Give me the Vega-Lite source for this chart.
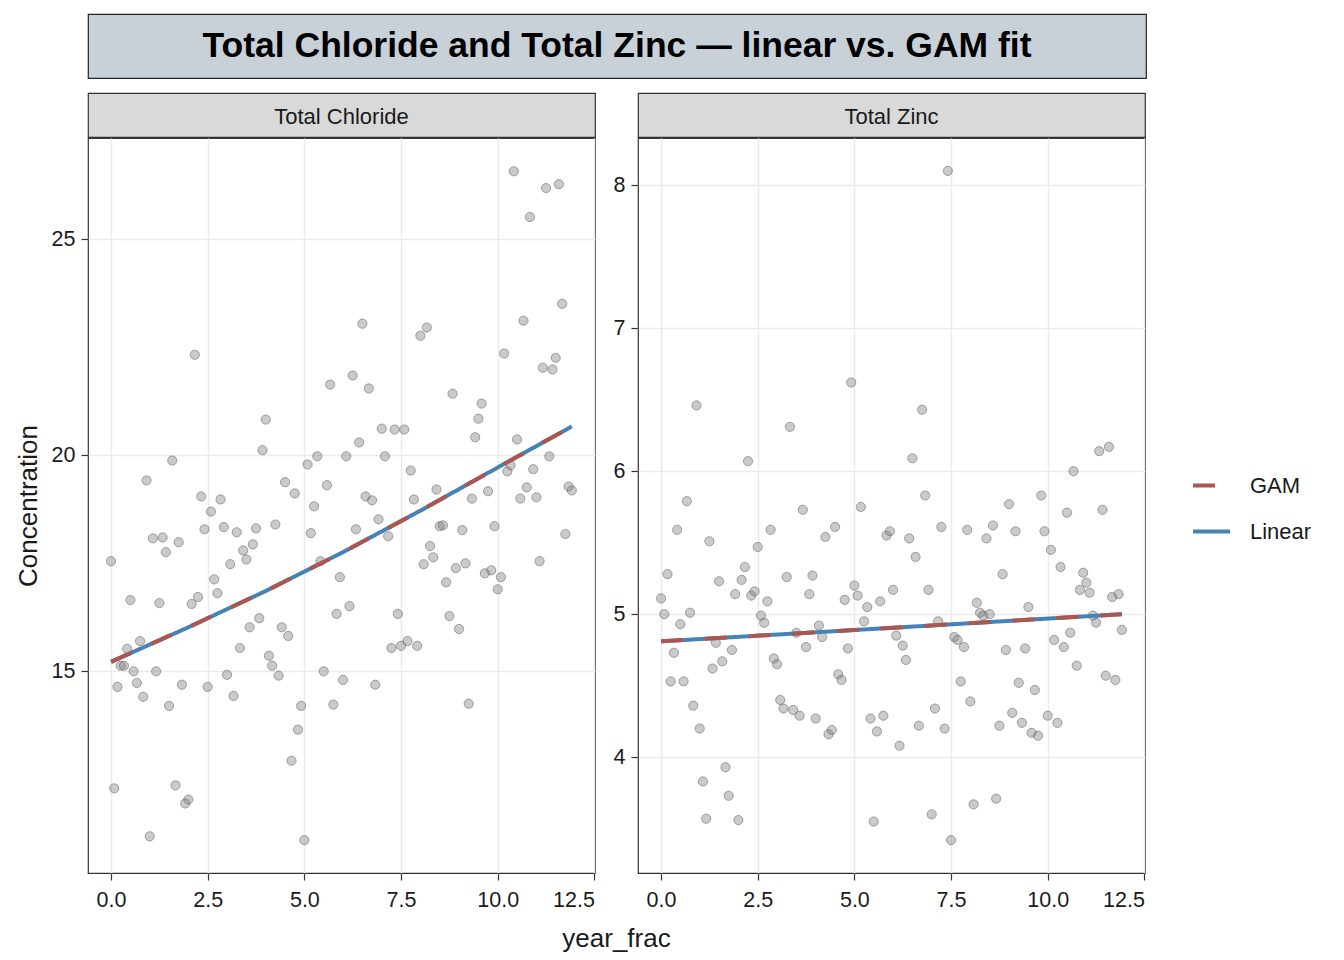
{
  "$schema": "https://vega.github.io/schema/vega-lite/v6.json",
  "padding": {"left": 14, "top": 13, "right": 5, "bottom": 5},
  "background": "white",
  "config": {
    "font": "Liberation Sans",
    "view": {"stroke": null},
    "axis": {
      "domain": false,
      "tickColor": "#333333",
      "tickSize": 7,
      "tickWidth": 1.2,
      "labelFont": "Liberation Sans",
      "labelFontSize": 21.5,
      "labelColor": "#1a1a1a",
      "gridColor": "#EBEBEB",
      "gridWidth": 1.5,
      "titleFont": "Liberation Sans",
      "titleFontSize": 26,
      "titleFontWeight": "normal",
      "titleColor": "#1a1a1a"
    },
    "axisX": {"labelPadding": 9, "titlePadding": 15},
    "axisY": {"labelPadding": 6, "titlePadding": 10},
    "legend": {
      "symbolType": "stroke",
      "symbolSize": 1369,
      "symbolStrokeWidth": 4,
      "labelFont": "Liberation Sans",
      "labelFontSize": 22,
      "labelColor": "#1a1a1a",
      "labelOffset": 18,
      "rowPadding": 14
    }
  },
  "datasets": {
    "chloride": [
      {"year_frac": 0, "value": 17.55}, {"year_frac": 0.083, "value": 12.29}, {"year_frac": 0.167, "value": 14.64}, {"year_frac": 0.25, "value": 15.13}, {"year_frac": 0.333, "value": 15.13}, {"year_frac": 0.417, "value": 15.52}, {"year_frac": 0.5, "value": 16.65}, {"year_frac": 0.583, "value": 15.0}, {"year_frac": 0.667, "value": 14.73}, {"year_frac": 0.75, "value": 15.7}, {"year_frac": 0.833, "value": 14.41}, {"year_frac": 0.917, "value": 19.42},
      {"year_frac": 1, "value": 11.18}, {"year_frac": 1.083, "value": 18.08}, {"year_frac": 1.167, "value": 15.0}, {"year_frac": 1.25, "value": 16.58}, {"year_frac": 1.333, "value": 18.1}, {"year_frac": 1.417, "value": 17.76}, {"year_frac": 1.5, "value": 14.2}, {"year_frac": 1.583, "value": 19.88}, {"year_frac": 1.667, "value": 12.36}, {"year_frac": 1.75, "value": 17.99}, {"year_frac": 1.833, "value": 14.69}, {"year_frac": 1.917, "value": 11.94},
      {"year_frac": 2, "value": 12.03}, {"year_frac": 2.083, "value": 16.56}, {"year_frac": 2.167, "value": 22.33}, {"year_frac": 2.25, "value": 16.72}, {"year_frac": 2.333, "value": 19.05}, {"year_frac": 2.417, "value": 18.29}, {"year_frac": 2.5, "value": 14.64}, {"year_frac": 2.583, "value": 18.7}, {"year_frac": 2.667, "value": 17.13}, {"year_frac": 2.75, "value": 16.81}, {"year_frac": 2.833, "value": 18.98}, {"year_frac": 2.917, "value": 18.34},
      {"year_frac": 3, "value": 14.92}, {"year_frac": 3.083, "value": 17.48}, {"year_frac": 3.167, "value": 14.43}, {"year_frac": 3.25, "value": 18.22}, {"year_frac": 3.333, "value": 15.54}, {"year_frac": 3.417, "value": 17.8}, {"year_frac": 3.5, "value": 17.59}, {"year_frac": 3.583, "value": 16.02}, {"year_frac": 3.667, "value": 17.94}, {"year_frac": 3.75, "value": 18.31}, {"year_frac": 3.833, "value": 16.23}, {"year_frac": 3.917, "value": 20.12},
      {"year_frac": 4, "value": 20.83}, {"year_frac": 4.083, "value": 15.36}, {"year_frac": 4.167, "value": 15.13}, {"year_frac": 4.25, "value": 18.4}, {"year_frac": 4.333, "value": 14.9}, {"year_frac": 4.417, "value": 16.02}, {"year_frac": 4.5, "value": 19.38}, {"year_frac": 4.583, "value": 15.82}, {"year_frac": 4.667, "value": 12.93}, {"year_frac": 4.75, "value": 19.12}, {"year_frac": 4.833, "value": 13.65}, {"year_frac": 4.917, "value": 14.2},
      {"year_frac": 5, "value": 11.09}, {"year_frac": 5.083, "value": 19.79}, {"year_frac": 5.167, "value": 18.2}, {"year_frac": 5.25, "value": 18.82}, {"year_frac": 5.333, "value": 19.98}, {"year_frac": 5.417, "value": 17.55}, {"year_frac": 5.5, "value": 15.0}, {"year_frac": 5.583, "value": 19.31}, {"year_frac": 5.667, "value": 21.64}, {"year_frac": 5.75, "value": 14.23}, {"year_frac": 5.833, "value": 16.33}, {"year_frac": 5.917, "value": 17.18},
      {"year_frac": 6, "value": 14.8}, {"year_frac": 6.083, "value": 19.98}, {"year_frac": 6.167, "value": 16.51}, {"year_frac": 6.25, "value": 21.85}, {"year_frac": 6.333, "value": 18.29}, {"year_frac": 6.417, "value": 20.3}, {"year_frac": 6.5, "value": 23.05}, {"year_frac": 6.583, "value": 19.05}, {"year_frac": 6.667, "value": 21.55}, {"year_frac": 6.75, "value": 18.96}, {"year_frac": 6.833, "value": 14.69}, {"year_frac": 6.917, "value": 18.52},
      {"year_frac": 7, "value": 20.62}, {"year_frac": 7.083, "value": 19.98}, {"year_frac": 7.167, "value": 18.13}, {"year_frac": 7.25, "value": 15.54}, {"year_frac": 7.333, "value": 20.6}, {"year_frac": 7.417, "value": 16.33}, {"year_frac": 7.5, "value": 15.59}, {"year_frac": 7.583, "value": 20.6}, {"year_frac": 7.667, "value": 15.7}, {"year_frac": 7.75, "value": 19.65}, {"year_frac": 7.833, "value": 18.98}, {"year_frac": 7.917, "value": 15.59},
      {"year_frac": 8, "value": 22.77}, {"year_frac": 8.083, "value": 17.48}, {"year_frac": 8.167, "value": 22.96}, {"year_frac": 8.25, "value": 17.9}, {"year_frac": 8.333, "value": 17.64}, {"year_frac": 8.417, "value": 19.21}, {"year_frac": 8.5, "value": 18.36}, {"year_frac": 8.583, "value": 18.38}, {"year_frac": 8.667, "value": 17.06}, {"year_frac": 8.75, "value": 16.28}, {"year_frac": 8.833, "value": 21.43}, {"year_frac": 8.917, "value": 17.39},
      {"year_frac": 9, "value": 15.98}, {"year_frac": 9.083, "value": 18.27}, {"year_frac": 9.167, "value": 17.5}, {"year_frac": 9.25, "value": 14.25}, {"year_frac": 9.333, "value": 19.0}, {"year_frac": 9.417, "value": 20.42}, {"year_frac": 9.5, "value": 20.85}, {"year_frac": 9.583, "value": 21.2}, {"year_frac": 9.667, "value": 17.27}, {"year_frac": 9.75, "value": 19.17}, {"year_frac": 9.833, "value": 17.34}, {"year_frac": 9.917, "value": 18.36},
      {"year_frac": 10, "value": 16.9}, {"year_frac": 10.083, "value": 17.18}, {"year_frac": 10.167, "value": 22.36}, {"year_frac": 10.25, "value": 19.63}, {"year_frac": 10.333, "value": 19.77}, {"year_frac": 10.417, "value": 26.58}, {"year_frac": 10.5, "value": 20.37}, {"year_frac": 10.583, "value": 19.0}, {"year_frac": 10.667, "value": 23.12}, {"year_frac": 10.75, "value": 19.26}, {"year_frac": 10.833, "value": 25.52}, {"year_frac": 10.917, "value": 19.68},
      {"year_frac": 11, "value": 19.03}, {"year_frac": 11.083, "value": 17.55}, {"year_frac": 11.167, "value": 22.03}, {"year_frac": 11.25, "value": 26.19}, {"year_frac": 11.333, "value": 19.98}, {"year_frac": 11.417, "value": 21.99}, {"year_frac": 11.5, "value": 22.26}, {"year_frac": 11.583, "value": 26.28}, {"year_frac": 11.667, "value": 23.51}, {"year_frac": 11.75, "value": 18.18}, {"year_frac": 11.833, "value": 19.28}, {"year_frac": 11.917, "value": 19.19}
    ],
    "zinc": [
      {"year_frac": 0, "value": 5.11}, {"year_frac": 0.083, "value": 5.0}, {"year_frac": 0.167, "value": 5.28}, {"year_frac": 0.25, "value": 4.53}, {"year_frac": 0.333, "value": 4.73}, {"year_frac": 0.417, "value": 5.59}, {"year_frac": 0.5, "value": 4.93}, {"year_frac": 0.583, "value": 4.53}, {"year_frac": 0.667, "value": 5.79}, {"year_frac": 0.75, "value": 5.01}, {"year_frac": 0.833, "value": 4.36}, {"year_frac": 0.917, "value": 6.46},
      {"year_frac": 1, "value": 4.2}, {"year_frac": 1.083, "value": 3.83}, {"year_frac": 1.167, "value": 3.57}, {"year_frac": 1.25, "value": 5.51}, {"year_frac": 1.333, "value": 4.62}, {"year_frac": 1.417, "value": 4.8}, {"year_frac": 1.5, "value": 5.23}, {"year_frac": 1.583, "value": 4.67}, {"year_frac": 1.667, "value": 3.93}, {"year_frac": 1.75, "value": 3.73}, {"year_frac": 1.833, "value": 4.75}, {"year_frac": 1.917, "value": 5.14},
      {"year_frac": 2, "value": 3.56}, {"year_frac": 2.083, "value": 5.24}, {"year_frac": 2.167, "value": 5.33}, {"year_frac": 2.25, "value": 6.07}, {"year_frac": 2.333, "value": 5.13}, {"year_frac": 2.417, "value": 5.16}, {"year_frac": 2.5, "value": 5.47}, {"year_frac": 2.583, "value": 4.99}, {"year_frac": 2.667, "value": 4.94}, {"year_frac": 2.75, "value": 5.09}, {"year_frac": 2.833, "value": 5.59}, {"year_frac": 2.917, "value": 4.69},
      {"year_frac": 3, "value": 4.65}, {"year_frac": 3.083, "value": 4.4}, {"year_frac": 3.167, "value": 4.34}, {"year_frac": 3.25, "value": 5.26}, {"year_frac": 3.333, "value": 6.31}, {"year_frac": 3.417, "value": 4.33}, {"year_frac": 3.5, "value": 4.87}, {"year_frac": 3.583, "value": 4.29}, {"year_frac": 3.667, "value": 5.73}, {"year_frac": 3.75, "value": 4.77}, {"year_frac": 3.833, "value": 5.14}, {"year_frac": 3.917, "value": 5.27},
      {"year_frac": 4, "value": 4.27}, {"year_frac": 4.083, "value": 4.92}, {"year_frac": 4.167, "value": 4.84}, {"year_frac": 4.25, "value": 5.54}, {"year_frac": 4.333, "value": 4.16}, {"year_frac": 4.417, "value": 4.19}, {"year_frac": 4.5, "value": 5.61}, {"year_frac": 4.583, "value": 4.58}, {"year_frac": 4.667, "value": 4.54}, {"year_frac": 4.75, "value": 5.1}, {"year_frac": 4.833, "value": 4.76}, {"year_frac": 4.917, "value": 6.62},
      {"year_frac": 5, "value": 5.2}, {"year_frac": 5.083, "value": 5.13}, {"year_frac": 5.167, "value": 5.75}, {"year_frac": 5.25, "value": 4.95}, {"year_frac": 5.333, "value": 5.05}, {"year_frac": 5.417, "value": 4.27}, {"year_frac": 5.5, "value": 3.55}, {"year_frac": 5.583, "value": 4.18}, {"year_frac": 5.667, "value": 5.09}, {"year_frac": 5.75, "value": 4.29}, {"year_frac": 5.833, "value": 5.55}, {"year_frac": 5.917, "value": 5.58},
      {"year_frac": 6, "value": 5.17}, {"year_frac": 6.083, "value": 4.85}, {"year_frac": 6.167, "value": 4.08}, {"year_frac": 6.25, "value": 4.78}, {"year_frac": 6.333, "value": 4.68}, {"year_frac": 6.417, "value": 5.53}, {"year_frac": 6.5, "value": 6.09}, {"year_frac": 6.583, "value": 5.4}, {"year_frac": 6.667, "value": 4.22}, {"year_frac": 6.75, "value": 6.43}, {"year_frac": 6.833, "value": 5.83}, {"year_frac": 6.917, "value": 5.17},
      {"year_frac": 7, "value": 3.6}, {"year_frac": 7.083, "value": 4.34}, {"year_frac": 7.167, "value": 4.95}, {"year_frac": 7.25, "value": 5.61}, {"year_frac": 7.333, "value": 4.2}, {"year_frac": 7.417, "value": 8.1}, {"year_frac": 7.5, "value": 3.42}, {"year_frac": 7.583, "value": 4.84}, {"year_frac": 7.667, "value": 4.82}, {"year_frac": 7.75, "value": 4.53}, {"year_frac": 7.833, "value": 4.77}, {"year_frac": 7.917, "value": 5.59},
      {"year_frac": 8, "value": 4.39}, {"year_frac": 8.083, "value": 3.67}, {"year_frac": 8.167, "value": 5.08}, {"year_frac": 8.25, "value": 5.01}, {"year_frac": 8.333, "value": 4.99}, {"year_frac": 8.417, "value": 5.53}, {"year_frac": 8.5, "value": 5.0}, {"year_frac": 8.583, "value": 5.62}, {"year_frac": 8.667, "value": 3.71}, {"year_frac": 8.75, "value": 4.22}, {"year_frac": 8.833, "value": 5.28}, {"year_frac": 8.917, "value": 4.75},
      {"year_frac": 9, "value": 5.77}, {"year_frac": 9.083, "value": 4.31}, {"year_frac": 9.167, "value": 5.58}, {"year_frac": 9.25, "value": 4.52}, {"year_frac": 9.333, "value": 4.24}, {"year_frac": 9.417, "value": 4.76}, {"year_frac": 9.5, "value": 5.05}, {"year_frac": 9.583, "value": 4.17}, {"year_frac": 9.667, "value": 4.47}, {"year_frac": 9.75, "value": 4.15}, {"year_frac": 9.833, "value": 5.83}, {"year_frac": 9.917, "value": 5.58},
      {"year_frac": 10, "value": 4.29}, {"year_frac": 10.083, "value": 5.45}, {"year_frac": 10.167, "value": 4.82}, {"year_frac": 10.25, "value": 4.24}, {"year_frac": 10.333, "value": 5.33}, {"year_frac": 10.417, "value": 4.77}, {"year_frac": 10.5, "value": 5.71}, {"year_frac": 10.583, "value": 4.87}, {"year_frac": 10.667, "value": 6.0}, {"year_frac": 10.75, "value": 4.64}, {"year_frac": 10.833, "value": 5.17}, {"year_frac": 10.917, "value": 5.29},
      {"year_frac": 11, "value": 5.22}, {"year_frac": 11.083, "value": 5.15}, {"year_frac": 11.167, "value": 4.99}, {"year_frac": 11.25, "value": 4.94}, {"year_frac": 11.333, "value": 6.14}, {"year_frac": 11.417, "value": 5.73}, {"year_frac": 11.5, "value": 4.57}, {"year_frac": 11.583, "value": 6.17}, {"year_frac": 11.667, "value": 5.12}, {"year_frac": 11.75, "value": 4.54}, {"year_frac": 11.833, "value": 5.14}, {"year_frac": 11.917, "value": 4.89}
    ],
    "fits": [
      {"param": "Total Chloride", "model": "Linear", "year_frac": 0, "value": 15.22},
      {"param": "Total Chloride", "model": "Linear", "year_frac": 2, "value": 16.02},
      {"param": "Total Chloride", "model": "Linear", "year_frac": 4, "value": 16.86},
      {"param": "Total Chloride", "model": "Linear", "year_frac": 6, "value": 17.76},
      {"param": "Total Chloride", "model": "Linear", "year_frac": 8, "value": 18.72},
      {"param": "Total Chloride", "model": "Linear", "year_frac": 10, "value": 19.72},
      {"param": "Total Chloride", "model": "Linear", "year_frac": 11.917, "value": 20.67},
      {"param": "Total Chloride", "model": "GAM", "year_frac": 0, "value": 15.22},
      {"param": "Total Chloride", "model": "GAM", "year_frac": 2, "value": 16.02},
      {"param": "Total Chloride", "model": "GAM", "year_frac": 4, "value": 16.86},
      {"param": "Total Chloride", "model": "GAM", "year_frac": 6, "value": 17.76},
      {"param": "Total Chloride", "model": "GAM", "year_frac": 8, "value": 18.72},
      {"param": "Total Chloride", "model": "GAM", "year_frac": 10, "value": 19.72},
      {"param": "Total Chloride", "model": "GAM", "year_frac": 11.917, "value": 20.67},
      {"param": "Total Zinc", "model": "Linear", "year_frac": 0, "value": 4.81},
      {"param": "Total Zinc", "model": "Linear", "year_frac": 6, "value": 4.905},
      {"param": "Total Zinc", "model": "Linear", "year_frac": 11.917, "value": 5.0},
      {"param": "Total Zinc", "model": "GAM", "year_frac": 0, "value": 4.81},
      {"param": "Total Zinc", "model": "GAM", "year_frac": 6, "value": 4.905},
      {"param": "Total Zinc", "model": "GAM", "year_frac": 11.917, "value": 5.0}
    ],
    "strips": [
      {"param": "Total Chloride"},
      {"param": "Total Zinc"}
    ],
    "heading": [
      {"text": "Total Chloride and Total Zinc — linear vs. GAM fit"}
    ]
  },
  "spacing": 13,
  "vconcat": [
    {
      "width": 1058,
      "height": 64,
      "data": {"name": "heading"},
      "view": {"fill": "#C8D0D8", "stroke": "#222222", "strokeWidth": 1.2},
      "mark": {"type": "text", "fontSize": 35.5, "fontWeight": "bold", "color": "#000000", "font": "Liberation Sans"},
      "encoding": {"text": {"field": "text", "type": "nominal"}}
    },
    {
      "columns": 2,
      "bounds": "flush",
      "spacing": {"row": 1, "column": 43},
      "concat": [
        {
          "width": 507,
          "height": 44,
          "data": {"name": "strips"},
          "transform": [{"filter": "datum.param === 'Total Chloride'"}],
          "view": {"fill": "#D9D9D9", "stroke": "#333333", "strokeWidth": 1.2},
          "mark": {"type": "text", "fontSize": 22, "color": "#1a1a1a", "dy": 1.5},
          "encoding": {"text": {"field": "param", "type": "nominal"}}
        },
        {
          "width": 507,
          "height": 44,
          "data": {"name": "strips"},
          "transform": [{"filter": "datum.param === 'Total Zinc'"}],
          "view": {"fill": "#D9D9D9", "stroke": "#333333", "strokeWidth": 1.2},
          "mark": {"type": "text", "fontSize": 22, "color": "#1a1a1a", "dy": 1.5},
          "encoding": {"text": {"field": "param", "type": "nominal"}}
        },
        {
          "width": 507,
          "height": 735,
          "view": {"stroke": "#333333", "strokeWidth": 1.2},
          "encoding": {
            "x": {
              "field": "year_frac", "type": "quantitative",
              "scale": {"domain": [-0.596, 12.516], "nice": false, "zero": false},
              "axis": {"values": [0, 2.5, 5, 7.5, 10, 12.5], "format": ".1f", "title": "year_frac", "titleX": 528, "titleAnchor": null}
            },
            "y": {
              "field": "value", "type": "quantitative",
              "scale": {"domain": [10.33, 27.35], "nice": false, "zero": false},
              "axis": {"values": [15, 20, 25], "title": "Concentration"}
            }
          },
          "layer": [
            {
              "data": {"name": "chloride"},
              "mark": {"type": "circle", "size": 85, "fill": "#808080", "fillOpacity": 0.42, "stroke": "#5a5a5a", "strokeOpacity": 0.5, "strokeWidth": 1}
            },
            {
              "data": {"name": "fits"},
              "transform": [{"filter": "datum.param === 'Total Chloride'"}, {"filter": "datum.model === 'Linear'"}],
              "mark": {"type": "line", "strokeWidth": 4},
              "encoding": {
                "color": {"field": "model", "type": "nominal", "title": null, "scale": {"domain": ["GAM", "Linear"], "range": ["#AD564F", "#4682B4"]}, "legend": {"orient": "none", "legendX": 1103, "legendY": 451}},
                "strokeDash": {"field": "model", "type": "nominal", "title": null, "scale": {"domain": ["GAM", "Linear"], "range": [[22, 22], [1, 0]]}, "legend": {"orient": "none", "legendX": 1103, "legendY": 451}}
              }
            },
            {
              "data": {"name": "fits"},
              "transform": [{"filter": "datum.param === 'Total Chloride'"}, {"filter": "datum.model === 'GAM'"}],
              "mark": {"type": "line", "strokeWidth": 4},
              "encoding": {
                "color": {"field": "model", "type": "nominal", "title": null, "scale": {"domain": ["GAM", "Linear"], "range": ["#AD564F", "#4682B4"]}, "legend": {"orient": "none", "legendX": 1103, "legendY": 451}},
                "strokeDash": {"field": "model", "type": "nominal", "title": null, "scale": {"domain": ["GAM", "Linear"], "range": [[22, 22], [1, 0]]}, "legend": {"orient": "none", "legendX": 1103, "legendY": 451}}
              }
            }
          ]
        },
        {
          "width": 507,
          "height": 735,
          "view": {"stroke": "#333333", "strokeWidth": 1.2},
          "encoding": {
            "x": {
              "field": "year_frac", "type": "quantitative",
              "scale": {"domain": [-0.596, 12.516], "nice": false, "zero": false},
              "axis": {"values": [0, 2.5, 5, 7.5, 10, 12.5], "format": ".1f", "title": null}
            },
            "y": {
              "field": "value", "type": "quantitative",
              "scale": {"domain": [3.19, 8.33], "nice": false, "zero": false},
              "axis": {"values": [4, 5, 6, 7, 8], "title": null}
            }
          },
          "layer": [
            {
              "data": {"name": "zinc"},
              "mark": {"type": "circle", "size": 85, "fill": "#808080", "fillOpacity": 0.42, "stroke": "#5a5a5a", "strokeOpacity": 0.5, "strokeWidth": 1}
            },
            {
              "data": {"name": "fits"},
              "transform": [{"filter": "datum.param === 'Total Zinc'"}, {"filter": "datum.model === 'Linear'"}],
              "mark": {"type": "line", "strokeWidth": 4},
              "encoding": {
                "color": {"field": "model", "type": "nominal", "title": null, "scale": {"domain": ["GAM", "Linear"], "range": ["#AD564F", "#4682B4"]}, "legend": {"orient": "none", "legendX": 1103, "legendY": 451}},
                "strokeDash": {"field": "model", "type": "nominal", "title": null, "scale": {"domain": ["GAM", "Linear"], "range": [[22, 22], [1, 0]]}, "legend": {"orient": "none", "legendX": 1103, "legendY": 451}}
              }
            },
            {
              "data": {"name": "fits"},
              "transform": [{"filter": "datum.param === 'Total Zinc'"}, {"filter": "datum.model === 'GAM'"}],
              "mark": {"type": "line", "strokeWidth": 4},
              "encoding": {
                "color": {"field": "model", "type": "nominal", "title": null, "scale": {"domain": ["GAM", "Linear"], "range": ["#AD564F", "#4682B4"]}, "legend": {"orient": "none", "legendX": 1103, "legendY": 451}},
                "strokeDash": {"field": "model", "type": "nominal", "title": null, "scale": {"domain": ["GAM", "Linear"], "range": [[22, 22], [1, 0]]}, "legend": {"orient": "none", "legendX": 1103, "legendY": 451}}
              }
            }
          ]
        }
      ]
    }
  ]
}
